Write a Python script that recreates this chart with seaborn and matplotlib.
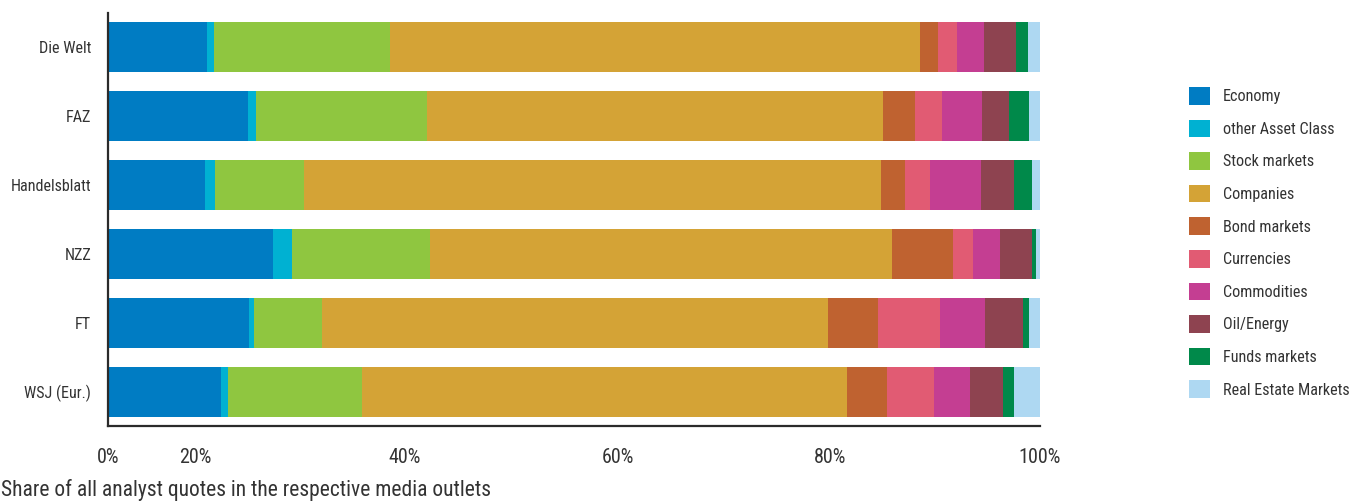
import numpy as np
import pandas as pd
import matplotlib
matplotlib.use("Agg")
import matplotlib.pyplot as plt
from matplotlib.patches import Patch
from matplotlib import font_manager as fm
import seaborn as sns

outlets = ["Die Welt", "FAZ", "Handelsblatt", "NZZ", "FT", "WSJ (Eur.)"]
topics = ["Economy", "other Asset Class", "Stock markets", "Companies", "Bond markets",
          "Currencies", "Commodities", "Oil/Energy", "Funds markets", "Real Estate Markets"]
colors = ["#007CC3", "#00B1D2", "#8FC640", "#D4A336", "#BF6230", "#E15B73",
          "#C43E92", "#8E4350", "#00894A", "#AED8F2"]

economy      = [10.6, 15.0, 10.4, 17.7, 15.1, 12.1]
other_asset  = [0.8, 0.9, 1.1, 2.0, 0.6, 0.8]
stock        = [18.9, 18.4, 9.5, 14.8, 7.3, 14.3]
companies    = [56.8, 48.9, 62.0, 49.5, 54.3, 52.1]
bonds        = [2.0, 3.5, 2.6, 6.5, 5.3, 4.3]
currencies   = [2.0, 2.9, 2.7, 2.1, 6.7, 5.0]
commodities  = [2.9, 4.3, 5.5, 2.9, 4.8, 3.9]
oil_energy   = [3.4, 2.9, 3.5, 3.4, 4.1, 3.5]
funds        = [1.3, 2.1, 1.9, 0.5, 0.6, 1.2]
real_estate  = [1.3, 1.2, 0.9, 0.4, 1.2, 2.8]

tick_pos = [0, 9.33, 31.87, 54.72, 77.47, 100]
tick_labels = ["0%", "20%", "40%", "60%", "80%", "100%"]
subtitle = "Share of all analyst quotes in the respective media outlets"

series = [economy, other_asset, stock, companies, bonds, currencies,
          commodities, oil_energy, funds, real_estate]
df = pd.DataFrame(dict(zip(topics, series)), index=outlets)
df = df.div(df.sum(axis=1), axis=0) * 100
cum = df.cumsum(axis=1)

sns.set_style("white")
available = {f.name for f in fm.fontManager.ttflist}
prefs = ["Roboto Condensed", "Liberation Sans Narrow", "DejaVu Sans Condensed", "Roboto"]
chosen = [p for p in prefs if p in available]
narrow = bool(chosen) and chosen[0] != "Roboto"
plt.rcParams["font.family"] = (chosen[:1] if chosen else []) + ["DejaVu Sans"]
scale = 1.0 if narrow else 0.84
text_col = "#333333"

fig = plt.figure(figsize=(13.54, 5.01), dpi=100)
ax = fig.add_axes([108/1354, 1-426/501, (1040-108)/1354, (426-13)/501])

for topic, col in reversed(list(zip(topics, colors))):
    sns.barplot(x=cum[topic].values, y=outlets, color=col, saturation=1,
                width=0.727, linewidth=0, orient="h", ax=ax)

ax.set_xlim(0, 100)
ax.set_ylim(5.5, -0.5)
ax.set_xticks(tick_pos)
ax.set_xticklabels(tick_labels)
ax.set_xlabel("")
ax.set_ylabel("")
fs = 11.6 * scale
ax.tick_params(axis="x", length=0, pad=16, labelsize=14.5 * scale, colors=text_col)
ax.tick_params(axis="y", length=0, pad=12, labelsize=fs, colors=text_col)
for s in ["top", "right"]:
    ax.spines[s].set_visible(False)
for s in ["left", "bottom"]:
    ax.spines[s].set_color("#2b2b2b")
    ax.spines[s].set_linewidth(1.6)

handles = [Patch(facecolor=c, edgecolor="none", label=t) for t, c in zip(topics, colors)]
fpx = fs / 72 * 100
hpx = 21 / fpx
fig.legend(handles=handles, loc="upper left",
           bbox_to_anchor=(1189/1354, 1-87/501), frameon=False,
           fontsize=fs, handlelength=hpx, handleheight=hpx,
           labelspacing=(32.6 - 21 + 3.4) / fpx,
           handletextpad=13 / fpx, borderpad=0, borderaxespad=0,
           labelcolor=text_col)

fig.text(1/1354, 1-490/501, subtitle, fontsize=15.5 * scale, color=text_col,
         ha="left", va="center")

fig.savefig("out.png", dpi=100)
